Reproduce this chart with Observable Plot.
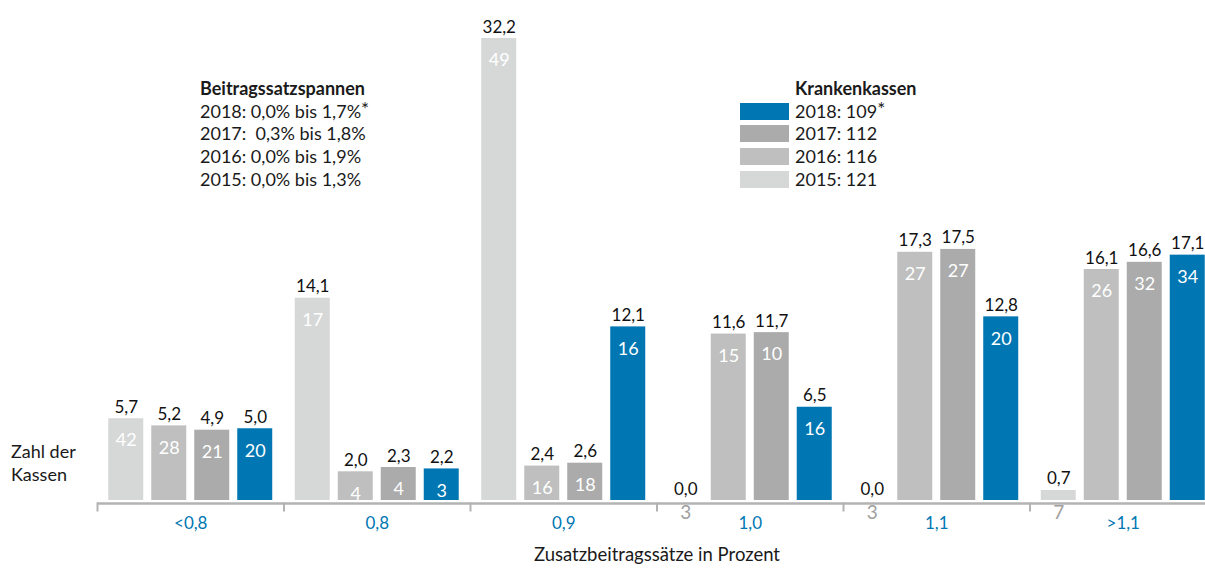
<!DOCTYPE html>
<html>
<head>
<meta charset="utf-8">
<script src="https://cdn.jsdelivr.net/npm/d3@7"></script>
<script src="https://cdn.jsdelivr.net/npm/@observablehq/plot@0.6"></script>
<style>
  html, body { margin: 0; padding: 0; background: #fff; overflow: hidden; }
  #wrap { position: relative; width: 1205px; height: 568px; overflow: hidden; font-family: Lato, "Noto Sans", sans-serif; color: #1a1a1a; }
  #chart { position: absolute; left: 0; top: 0; width: 1216px; }
  #chart svg { max-width: none; }
  .note { position: absolute; font-size: 18px; line-height: 22.7px; white-space: pre; }
  .note b { font-weight: 700; font-size: 18px; }
  .sw { display: inline-block; width: 49px; height: 17px; vertical-align: -2px; margin-right: 6px; }
  .ast { font-size: 19px; position: relative; top: -2px; line-height: 0; }
  g[aria-label="fx-axis tick label"] text { fill: #0077b3; }
  g[aria-label="fx-axis label"] text { font-size: 18.5px; }
</style>
</head>
<body>
<div id="wrap">
  <div id="chart"></div>
  <div class="note" id="spannen" style="left:200px; top:77px;"></div>
  <div class="note" id="kassen" style="left:740px; top:77px;"></div>
  <div class="note" style="left:11px; top:440px;">Zahl der
Kassen</div>
</div>
<script>
// Contribution-rate bands (Zusatzbeitragssatz, in %)
const groups = ["<0,8", "0,8", "0,9", "1,0", "1,1", ">1,1"];
const years = ["2015", "2016", "2017", "2018"];

// Share per band (bar height), by year
const share2015 = [5.7, 14.1, 32.2, 0.0, 0.0, 0.7];
const share2016 = [5.2, 2.0, 2.4, 11.6, 17.3, 16.1];
const share2017 = [4.9, 2.3, 2.6, 11.7, 17.5, 16.6];
const share2018 = [5.0, 2.2, 12.1, 6.5, 12.8, 17.1];

// Number of funds per band, by year
const count2015 = [42, 17, 49, 3, 3, 7];
const count2016 = [28, 4, 16, 15, 27, 26];
const count2017 = [21, 4, 18, 10, 27, 32];
const count2018 = [20, 3, 16, 16, 20, 34];

const colors = ["#d6d8d7", "#bebfbe", "#aaabaa", "#0077b3"];

// Legend texts
const rangeLines = ["2018: 0,0% bis 1,7%*", "2017:  0,3% bis 1,8%", "2016: 0,0% bis 1,9%", "2015: 0,0% bis 1,3%"];
const legendOrder = ["2018", "2017", "2016", "2015"];
const fundTotals = ["109*", "112", "116", "121"];

const shares = [share2015, share2016, share2017, share2018];
const counts = [count2015, count2016, count2017, count2018];
const rows = [];
years.forEach((yr, i) => groups.forEach((g, j) => rows.push({group: g, year: yr, share: shares[i][j], count: counts[i][j]})));

const fmt = v => d3.format(".1f")(v).replace(".", ",");
const inside = rows.filter(d => d.share >= 1);
const below = rows.filter(d => d.share < 1);

const chart = Plot.plot({
  width: 1216,
  height: 568,
  marginTop: 38,
  marginLeft: 97,
  marginRight: 0,
  marginBottom: 58,
  style: {fontFamily: "Lato, 'Noto Sans', sans-serif", fontSize: "17px", background: "transparent", color: "#1a1a1a", maxWidth: "none"},
  fx: {domain: groups, padding: 0, round: false, tickSize: 0, tickPadding: 6, label: "Zusatzbeitragssätze in Prozent", labelAnchor: "center", labelOffset: 50},
  x: {domain: years, paddingInner: 0.186, paddingOuter: 0.262, round: false, axis: null},
  y: {domain: [0, 32.2], insetBottom: 10, axis: null},
  color: {domain: years, range: colors},
  marks: [
    Plot.barY(rows, {fx: "group", x: "year", y: "share", fill: "year"}),
    Plot.ruleY([0], {dy: 3, stroke: "#b3b3b3", strokeWidth: 2.5}),
    Plot.frame({anchor: "left", insetTop: 465, stroke: "#b3b3b3", strokeWidth: 2}),
    Plot.text(rows, {fx: "group", x: "year", y: "share", text: d => fmt(d.share), lineAnchor: "bottom", dy: -6, fill: "#111", fontSize: 17}),
    Plot.text(inside, {fx: "group", x: "year", y: "share", text: "count", lineAnchor: "middle", dy: 22, fill: "#fff", fontSize: 18}),
    Plot.text(below, {fx: "group", x: "year", y: 0, text: "count", lineAnchor: "top", dy: 5, fill: "#a0a0a0", fontSize: 19})
  ]
});
document.getElementById("chart").append(chart);

// Left note: ranges of contribution rates
document.getElementById("spannen").innerHTML =
  "<b>Beitragssatzspannen</b>\n" +
  rangeLines.map(s => s.replace("*", "<span class='ast'>*</span>")).join("\n");

// Right note: legend with fund totals
document.getElementById("kassen").innerHTML =
  "<span style='margin-left:55px'><b>Krankenkassen</b></span>\n" +
  legendOrder.map((yr, i) => {
    const c = colors[years.indexOf(yr)];
    const t = fundTotals[i].replace("*", "<span class='ast'>*</span>");
    return `<span class="sw" style="background:${c}"></span>${yr}: ${t}`;
  }).join("\n");
</script>
</body>
</html>
